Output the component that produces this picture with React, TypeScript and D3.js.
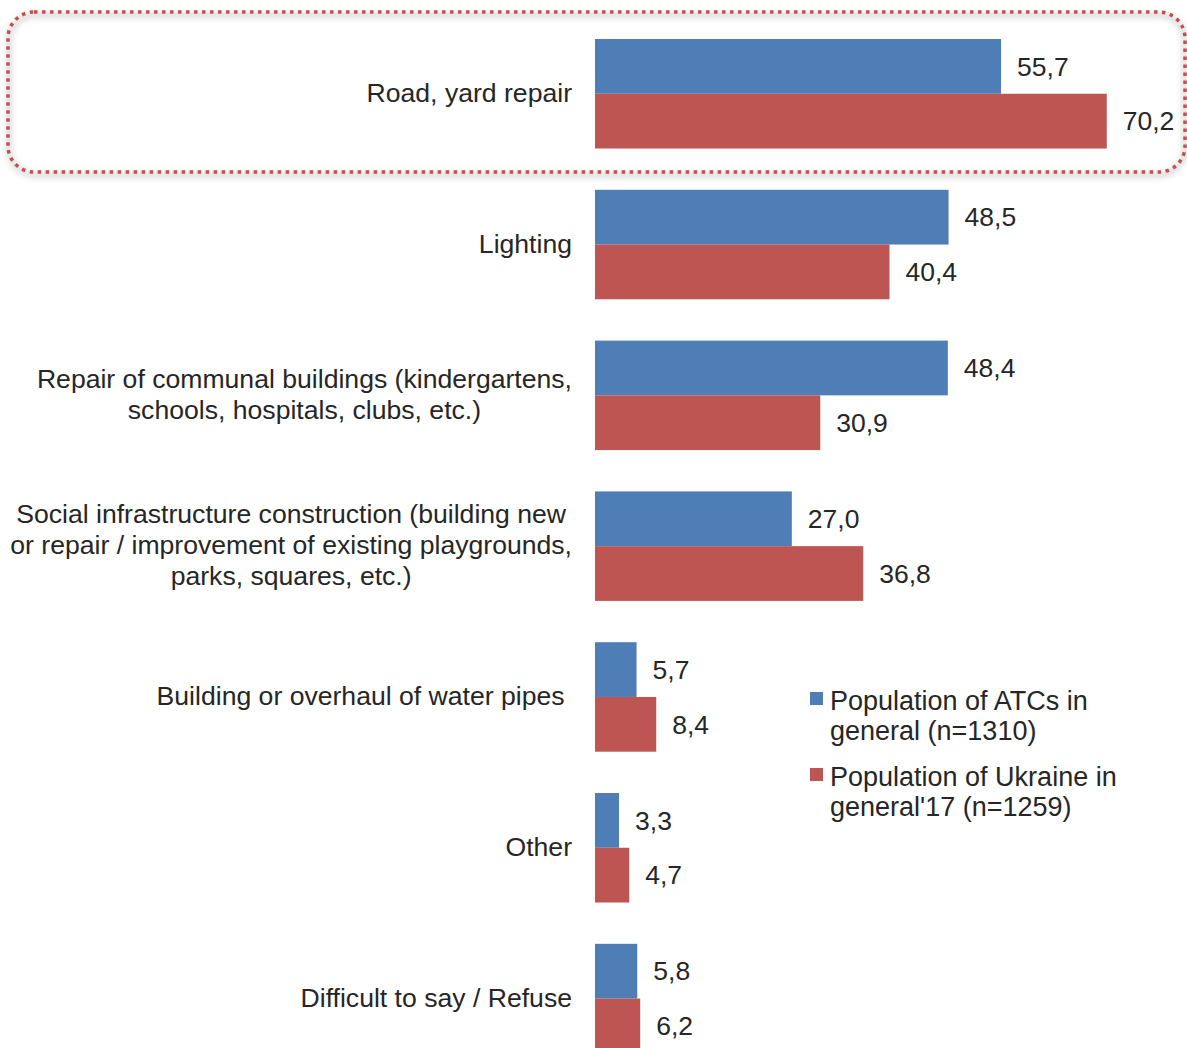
import React from "react";
import * as d3 from "d3";

const categories: string[][] = [
  ["Road, yard repair"],
  ["Lighting"],
  ["Repair of communal buildings (kindergartens,", "schools, hospitals, clubs, etc.)"],
  ["Social infrastructure construction (building new", "or repair / improvement of existing playgrounds,", "parks, squares, etc.)"],
  ["Building or overhaul of water pipes\u00A0"],
  ["Other"],
  ["Difficult to say / Refuse"],
];
const atcValues = [55.7, 48.5, 48.4, 27.0, 5.7, 3.3, 5.8];
const ukraineValues = [70.2, 40.4, 30.9, 36.8, 8.4, 4.7, 6.2];
const seriesNames = [
  ["Population of ATCs in", "general (n=1310)"],
  ["Population of Ukraine in", "general'17 (n=1259)"],
];
const colors = ["#4F7DB6", "#BD5552"];

const W = 1187;
const H = 1048;
const FONT = "Liberation Sans, Arial, sans-serif";
const FS = 26.6;
const FSV = 26.5;
const FSL = 27;
const TEXT = "#262626";

let ctx: CanvasRenderingContext2D | null = null;
function measure(s: string): number {
  if (!ctx) ctx = document.createElement("canvas").getContext("2d");
  if (!ctx) return s.length * FS * 0.5;
  ctx.font = `${FS}px ${FONT}`;
  return ctx.measureText(s).width;
}

export default function App() {
  const keys = categories.map((_, i) => String(i));
  const y = d3
    .scaleBand<string>()
    .domain(keys)
    .range([39, 39 + 7 * 150.8 - 41.3])
    .paddingInner(0.274)
    .paddingOuter(0);
  const x = d3.scaleLinear().domain([0, 80]).range([595, 595 + 80 * 7.29]);
  const bh = y.bandwidth() / 2;
  const fmt = (v: number) => v.toFixed(1).replace(".", ",");
  const labelRight = 572;
  const lineH = 31;

  return (
    <div style={{ position: "absolute", left: 0, top: 0, width: W, height: H, background: "#fff" }}>
      <svg width={W} height={H} style={{ display: "block" }} fontFamily={FONT}>
        <defs>
          <filter id="sh" x="-5%" y="-30%" width="110%" height="160%">
            <feGaussianBlur stdDeviation="3" />
          </filter>
        </defs>
        <rect width={W} height={H} fill="#fff" />
        <rect x={9} y={15} width={1176} height={160} rx={26} ry={26} fill="none" stroke="#bfbfbf" strokeWidth={4} filter="url(#sh)" opacity={0.8} />
        <rect x={8} y={12} width={1177} height={160} rx={26} ry={26} fill="none" stroke="#C0504D" strokeWidth={3.5} strokeDasharray="3.5 4.5" />

        {categories.map((lines, i) => {
          const k = keys[i];
          const y0 = y(k) as number;
          const cy = y0 + y.bandwidth() / 2;
          const maxW = d3.max(lines, (l) => measure(l)) as number;
          const cx = labelRight - maxW / 2;
          const startY = cy - ((lines.length - 1) * lineH) / 2 - 1;
          return (
            <g key={k}>
              <rect x={x(0)} y={y0} width={x(atcValues[i]) - x(0)} height={bh} fill={colors[0]} />
              <rect x={x(0)} y={y0 + bh} width={x(ukraineValues[i]) - x(0)} height={bh} fill={colors[1]} />
              <text x={x(atcValues[i]) + 16} y={y0 + bh / 2} dy="0.35em" fontSize={FSV} fill={TEXT}>
                {fmt(atcValues[i])}
              </text>
              <text x={x(ukraineValues[i]) + 16} y={y0 + bh * 1.5} dy="0.35em" fontSize={FSV} fill={TEXT}>
                {fmt(ukraineValues[i])}
              </text>
              {lines.map((l, j) => (
                <text
                  key={j}
                  x={lines.length > 1 ? cx : labelRight}
                  y={startY + j * lineH}
                  dy="0.35em"
                  fontSize={FS}
                  fill={TEXT}
                  textAnchor={lines.length > 1 ? "middle" : "end"}
                  style={{ whiteSpace: "pre" }}
                >
                  {l}
                </text>
              ))}
            </g>
          );
        })}

        {seriesNames.map((lines, i) => (
          <g key={i} transform={`translate(810, ${692 + i * 76})`}>
            <rect x={0} y={0} width={13} height={13} fill={colors[i]} />
            {lines.map((l, j) => (
              <text key={j} x={20} y={9 + j * 30} dy="0.35em" fontSize={FSL} fill={TEXT}>
                {l}
              </text>
            ))}
          </g>
        ))}
      </svg>
    </div>
  );
}
